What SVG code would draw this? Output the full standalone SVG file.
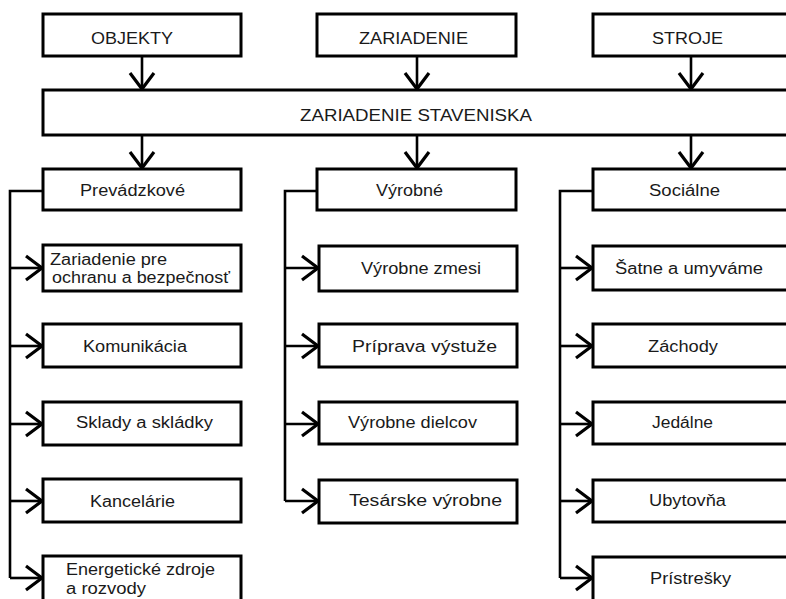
<svg xmlns="http://www.w3.org/2000/svg" width="786" height="599" viewBox="0 0 786 599">
<style>
.box{fill:#fff;stroke:#000;stroke-width:3}
.ln{fill:none;stroke:#000;stroke-width:2.6}
.ar{fill:none;stroke:#000;stroke-width:2.6;marker-end:url(#arr)}
text{font-family:"Liberation Sans",Arial,sans-serif;font-size:16px;fill:#1a1a1a}
</style>
<defs>
<marker id="arr" markerUnits="userSpaceOnUse" markerWidth="40" markerHeight="40" viewBox="-20 -20 40 40" refX="0" refY="0" orient="auto" overflow="visible">
<path d="M-16,-12 L0,0 L-16,12" fill="none" stroke="#000" stroke-width="3.2"/>
</marker>
</defs>
<rect width="786" height="599" fill="#fff"/>
<g id="connectors">
<line class="ar" x1="142" y1="56" x2="142" y2="89"/>
<line class="ar" x1="417" y1="56" x2="417" y2="89"/>
<line class="ar" x1="691" y1="56" x2="691" y2="89"/>
<line class="ar" x1="142" y1="135" x2="142" y2="168"/>
<line class="ar" x1="417" y1="135" x2="417" y2="168"/>
<line class="ar" x1="691" y1="135" x2="691" y2="168"/>
<path class="ln" d="M43,191 H10 V578"/>
<line class="ar" x1="10" y1="268" x2="42" y2="268"/>
<line class="ar" x1="10" y1="346" x2="42" y2="346"/>
<line class="ar" x1="10" y1="424" x2="42" y2="424"/>
<line class="ar" x1="10" y1="501" x2="42" y2="501"/>
<line class="ar" x1="10" y1="578" x2="42" y2="578"/>
<path class="ln" d="M317,191 H285 V501"/>
<line class="ar" x1="285" y1="268" x2="318" y2="268"/>
<line class="ar" x1="285" y1="346" x2="318" y2="346"/>
<line class="ar" x1="285" y1="424" x2="318" y2="424"/>
<line class="ar" x1="285" y1="501" x2="318" y2="501"/>
<path class="ln" d="M593,191 H560 V578"/>
<line class="ar" x1="560" y1="268" x2="592" y2="268"/>
<line class="ar" x1="560" y1="346" x2="592" y2="346"/>
<line class="ar" x1="560" y1="424" x2="592" y2="424"/>
<line class="ar" x1="560" y1="501" x2="592" y2="501"/>
<line class="ar" x1="560" y1="578" x2="592" y2="578"/>
</g>
<g id="objekty"><rect class="box" x="43" y="14" width="198" height="42"/><text x="91" y="44" textLength="82" lengthAdjust="spacingAndGlyphs">OBJEKTY</text></g>
<g id="zariadenie"><rect class="box" x="317" y="14" width="199" height="42"/><text x="359" y="44" textLength="109" lengthAdjust="spacingAndGlyphs">ZARIADENIE</text></g>
<g id="stroje"><rect class="box" x="593" y="14" width="203" height="42"/><text x="652" y="44" textLength="71" lengthAdjust="spacingAndGlyphs">STROJE</text></g>
<g id="zariadenie-staveniska"><rect class="box" x="43" y="90" width="753" height="45"/><text x="300" y="121" textLength="232" lengthAdjust="spacingAndGlyphs">ZARIADENIE STAVENISKA</text></g>
<g id="prevadzkove"><rect class="box" x="43" y="169" width="198" height="41"/><text x="80" y="196" textLength="105" lengthAdjust="spacingAndGlyphs">Prevádzkové</text></g>
<g id="vyrobne"><rect class="box" x="317" y="169" width="199" height="41"/><text x="376" y="196" textLength="67" lengthAdjust="spacingAndGlyphs">Výrobné</text></g>
<g id="socialne"><rect class="box" x="593" y="169" width="203" height="41"/><text x="649" y="196" textLength="71" lengthAdjust="spacingAndGlyphs">Sociálne</text></g>
<g id="zariadenie-pre"><rect class="box" x="43" y="245" width="198" height="46"/><text x="50" y="265" textLength="117" lengthAdjust="spacingAndGlyphs">Zariadenie pre</text><text x="52" y="283" textLength="178" lengthAdjust="spacingAndGlyphs">ochranu a bezpečnosť</text></g>
<g id="komunikacia"><rect class="box" x="43" y="324" width="198" height="43"/><text x="83" y="352" textLength="104" lengthAdjust="spacingAndGlyphs">Komunikácia</text></g>
<g id="sklady"><rect class="box" x="43" y="402" width="198" height="43"/><text x="76" y="428" textLength="137" lengthAdjust="spacingAndGlyphs">Sklady a skládky</text></g>
<g id="kancelarie"><rect class="box" x="43" y="479" width="198" height="43"/><text x="90" y="507" textLength="85" lengthAdjust="spacingAndGlyphs">Kancelárie</text></g>
<g id="energeticke"><rect class="box" x="43" y="556" width="198" height="60"/><text x="66" y="575" textLength="149" lengthAdjust="spacingAndGlyphs">Energetické zdroje</text><text x="66" y="594" textLength="80" lengthAdjust="spacingAndGlyphs">a rozvody</text></g>
<g id="vyrobne-zmesi"><rect class="box" x="319" y="246" width="198" height="45"/><text x="361" y="274" textLength="120" lengthAdjust="spacingAndGlyphs">Výrobne zmesi</text></g>
<g id="priprava"><rect class="box" x="319" y="324" width="198" height="43"/><text x="352" y="352" textLength="145" lengthAdjust="spacingAndGlyphs">Príprava výstuže</text></g>
<g id="vyrobne-dielcov"><rect class="box" x="319" y="402" width="198" height="42"/><text x="348" y="428" textLength="129" lengthAdjust="spacingAndGlyphs">Výrobne dielcov</text></g>
<g id="tesarske"><rect class="box" x="319" y="480" width="198" height="43"/><text x="349" y="506" textLength="153" lengthAdjust="spacingAndGlyphs">Tesárske výrobne</text></g>
<g id="satne"><rect class="box" x="593" y="246" width="203" height="44"/><text x="615" y="274" textLength="148" lengthAdjust="spacingAndGlyphs">Šatne a umyváme</text></g>
<g id="zachody"><rect class="box" x="593" y="324" width="203" height="43"/><text x="648" y="352" textLength="70" lengthAdjust="spacingAndGlyphs">Záchody</text></g>
<g id="jedalne"><rect class="box" x="593" y="402" width="203" height="42"/><text x="652" y="428" textLength="61" lengthAdjust="spacingAndGlyphs">Jedálne</text></g>
<g id="ubytovna"><rect class="box" x="593" y="480" width="203" height="42"/><text x="649" y="506" textLength="77" lengthAdjust="spacingAndGlyphs">Ubytovňa</text></g>
<g id="pristresky"><rect class="box" x="593" y="557" width="203" height="60"/><text x="650" y="584" textLength="81" lengthAdjust="spacingAndGlyphs">Prístrešky</text></g>
</svg>
